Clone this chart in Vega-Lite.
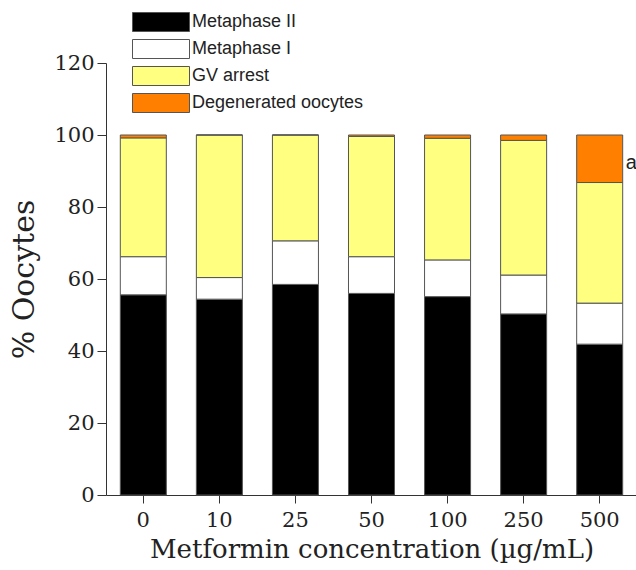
{
  "$schema": "https://vega.github.io/schema/vega-lite/v6.json",
  "autosize": "none",
  "width": 531,
  "height": 432,
  "padding": {"left": 106, "top": 63, "right": 0, "bottom": 75},
  "background": "white",
  "config": {"view": {"stroke": null}},
  "data": {"values": [
    {"conc": "0", "stage": "Metaphase II", "k": 1, "pct": 55.6},
    {"conc": "0", "stage": "Metaphase I", "k": 2, "pct": 10.6},
    {"conc": "0", "stage": "GV arrest", "k": 3, "pct": 33.0},
    {"conc": "0", "stage": "Degenerated oocytes", "k": 4, "pct": 0.8},
    {"conc": "10", "stage": "Metaphase II", "k": 1, "pct": 54.4},
    {"conc": "10", "stage": "Metaphase I", "k": 2, "pct": 6.0},
    {"conc": "10", "stage": "GV arrest", "k": 3, "pct": 39.6},
    {"conc": "10", "stage": "Degenerated oocytes", "k": 4, "pct": 0},
    {"conc": "25", "stage": "Metaphase II", "k": 1, "pct": 58.5},
    {"conc": "25", "stage": "Metaphase I", "k": 2, "pct": 12.1},
    {"conc": "25", "stage": "GV arrest", "k": 3, "pct": 29.4},
    {"conc": "25", "stage": "Degenerated oocytes", "k": 4, "pct": 0},
    {"conc": "50", "stage": "Metaphase II", "k": 1, "pct": 56.0},
    {"conc": "50", "stage": "Metaphase I", "k": 2, "pct": 10.2},
    {"conc": "50", "stage": "GV arrest", "k": 3, "pct": 33.4},
    {"conc": "50", "stage": "Degenerated oocytes", "k": 4, "pct": 0.4},
    {"conc": "100", "stage": "Metaphase II", "k": 1, "pct": 55.1},
    {"conc": "100", "stage": "Metaphase I", "k": 2, "pct": 10.2},
    {"conc": "100", "stage": "GV arrest", "k": 3, "pct": 33.8},
    {"conc": "100", "stage": "Degenerated oocytes", "k": 4, "pct": 0.9},
    {"conc": "250", "stage": "Metaphase II", "k": 1, "pct": 50.3},
    {"conc": "250", "stage": "Metaphase I", "k": 2, "pct": 10.8},
    {"conc": "250", "stage": "GV arrest", "k": 3, "pct": 37.4},
    {"conc": "250", "stage": "Degenerated oocytes", "k": 4, "pct": 1.5},
    {"conc": "500", "stage": "Metaphase II", "k": 1, "pct": 41.9},
    {"conc": "500", "stage": "Metaphase I", "k": 2, "pct": 11.4},
    {"conc": "500", "stage": "GV arrest", "k": 3, "pct": 33.5},
    {"conc": "500", "stage": "Degenerated oocytes", "k": 4, "pct": 13.2}
  ]},
  "layer": [
    {
      "mark": {"type": "bar", "stroke": "#555555", "strokeWidth": 1},
      "encoding": {
        "x": {
          "field": "conc", "type": "nominal",
          "sort": ["0", "10", "25", "50", "100", "250", "500"],
          "scale": {"paddingInner": 0.395, "paddingOuter": 0.188},
          "axis": {
            "title": "Metformin concentration (µg/mL)",
            "titleFont": "DejaVu Serif", "titleFontSize": 26, "titleFontWeight": "normal",
            "titleColor": "#222", "titlePadding": 6,
            "labelFont": "DejaVu Serif", "labelFontSize": 21, "labelColor": "#222",
            "labelAngle": 0, "labelPadding": 6,
            "domainColor": "#333", "tickColor": "#333", "tickSize": 8, "grid": false
          }
        },
        "y": {
          "field": "pct", "type": "quantitative", "stack": "zero",
          "scale": {"domain": [0, 120], "nice": false},
          "axis": {
            "title": "% Oocytes", "values": [0, 20, 40, 60, 80, 100, 120],
            "titleFont": "DejaVu Serif", "titleFontSize": 30, "titleFontWeight": "normal",
            "titleColor": "#222", "titlePadding": 14,
            "labelFont": "DejaVu Serif", "labelFontSize": 21, "labelColor": "#222",
            "labelPadding": 3,
            "domainColor": "#333", "tickColor": "#333", "tickSize": 9, "grid": false
          }
        },
        "color": {
          "field": "stage", "type": "nominal",
          "scale": {
            "domain": ["Metaphase II", "Metaphase I", "GV arrest", "Degenerated oocytes"],
            "range": ["#000000", "#ffffff", "#ffff80", "#ff8000"]
          },
          "legend": {
            "title": null, "orient": "none", "legendX": 45, "legendY": -51,
            "symbolType": "M-3,-1H3V1H-3Z", "symbolSize": 361,
            "symbolStrokeColor": "#555555", "symbolStrokeWidth": 1,
            "labelFont": "Liberation Sans", "labelFontSize": 18, "labelColor": "#222",
            "labelOffset": 21, "rowPadding": 3, "labelLimit": 400
          }
        },
        "order": {"field": "k", "type": "quantitative"}
      }
    },
    {
      "data": {"values": [{"conc": "500", "y": 92.2, "t": "a"}]},
      "mark": {"type": "text", "align": "left", "baseline": "middle", "dx": 26, "font": "Liberation Sans", "fontSize": 20, "color": "#222"},
      "encoding": {
        "x": {"field": "conc", "type": "nominal", "sort": ["0", "10", "25", "50", "100", "250", "500"]},
        "y": {"field": "y", "type": "quantitative"},
        "text": {"field": "t"}
      }
    }
  ]
}
